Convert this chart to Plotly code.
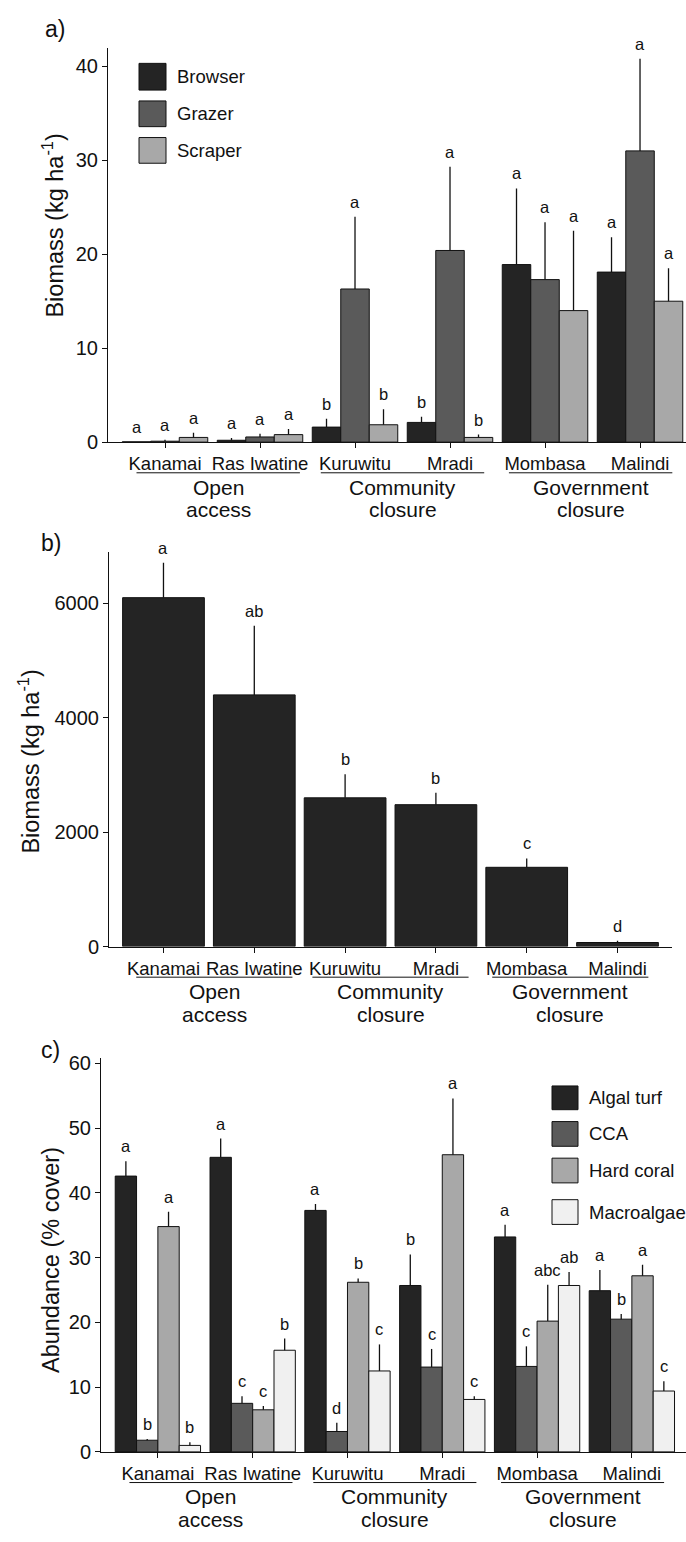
import plotly.graph_objects as go

W, H = 686, 1542
FONT = "Arial, Liberation Sans, Helvetica, sans-serif"

sites = ["Kanamai", "Ras Iwatine", "Kuruwitu", "Mradi", "Mombasa", "Malindi"]
groups = [["Open", "access"], ["Community", "closure"], ["Government", "closure"]]
group_centers = [0.56, 2.5, 4.48]

# ---- panel a: herbivore functional groups biomass (kg/ha)
a_series = ["Browser", "Grazer", "Scraper"]
a_browser = [0.03, 0.2, 1.6, 2.1, 18.9, 18.1]
a_browser_se = [0.02, 0.25, 0.9, 0.6, 8.1, 3.7]
a_grazer = [0.1, 0.55, 16.3, 20.4, 17.3, 31.0]
a_grazer_se = [0.15, 0.35, 7.7, 8.9, 6.1, 9.8]
a_scraper = [0.5, 0.8, 1.85, 0.5, 14.0, 15.0]
a_scraper_se = [0.5, 0.6, 1.65, 0.3, 8.5, 3.5]
a_browser_let = ["a", "a", "b", "b", "a", "a"]
a_grazer_let = ["a", "a", "a", "a", "a", "a"]
a_scraper_let = ["a", "a", "b", "b", "a", "a"]
a_ticks = [0, 10, 20, 30, 40]

# ---- panel b: total biomass (kg/ha)
b_mean = [6100, 4400, 2600, 2480, 1385, 70]
b_se = [610, 1210, 410, 210, 155, 30]
b_let = ["a", "ab", "b", "b", "c", "d"]
b_ticks = [0, 2000, 4000, 6000]

# ---- panel c: benthic cover (%)
c_series = ["Algal turf", "CCA", "Hard coral", "Macroalgae"]
c_turf = [42.6, 45.5, 37.3, 25.7, 33.2, 24.9]
c_turf_se = [2.3, 2.9, 1.0, 4.8, 1.9, 3.2]
c_cca = [1.8, 7.5, 3.15, 13.1, 13.2, 20.5]
c_cca_se = [0.2, 1.1, 1.35, 2.8, 3.1, 0.8]
c_coral = [34.8, 6.5, 26.2, 45.9, 20.2, 27.2]
c_coral_se = [2.3, 0.6, 0.6, 8.7, 5.6, 1.7]
c_macro = [1.0, 15.7, 12.5, 8.1, 25.7, 9.4]
c_macro_se = [0.5, 1.8, 4.1, 0.5, 2.1, 1.5]
c_turf_let = ["a", "a", "a", "b", "a", "a"]
c_cca_let = ["b", "c", "d", "c", "c", "b"]
c_coral_let = ["a", "c", "b", "a", "abc", "a"]
c_macro_let = ["b", "b", "c", "c", "ab", "c"]
c_ticks = [0, 10, 20, 30, 40, 50, 60]

colors3 = ["#242424", "#5a5a5a", "#a8a8a8"]
colors4 = ["#242424", "#5a5a5a", "#a8a8a8", "#f0f0f0"]


def px_x(p):
    return p / W


def px_y(p):
    return 1 - p / H


fig = go.Figure()
annotations = []
shapes = []
xs = list(range(len(sites)))


def add_panel(series_names, means, ses, letters, colors, xa, ya):
    n = len(means)
    bw = 0.9 / n
    for k in range(n):
        fig.add_trace(go.Bar(
            x=xs, y=means[k], name=series_names[k], width=bw,
            offset=-0.45 + k * bw,
            marker=dict(color=colors[k], line=dict(color="#111111", width=1)),
            error_y=dict(type="data", symmetric=False, array=ses[k],
                         arrayminus=[0] * len(xs), width=0, thickness=1.3,
                         color="#111111"),
            xaxis=xa, yaxis=ya, showlegend=False))
        for i in xs:
            annotations.append(dict(
                x=i - 0.45 + (k + 0.5) * bw, y=means[k][i] + ses[k][i],
                xref=xa, yref=ya, text=letters[k][i], showarrow=False,
                yanchor="middle", yshift=15,
                font=dict(family=FONT, size=16.5, color="#111111")))


add_panel(a_series, [a_browser, a_grazer, a_scraper],
          [a_browser_se, a_grazer_se, a_scraper_se],
          [a_browser_let, a_grazer_let, a_scraper_let], colors3, "x", "y")
add_panel(["Biomass"], [b_mean], [b_se], [b_let], ["#242424"], "x2", "y2")
add_panel(c_series, [c_turf, c_cca, c_coral, c_macro],
          [c_turf_se, c_cca_se, c_coral_se, c_macro_se],
          [c_turf_let, c_cca_let, c_coral_let, c_macro_let], colors4, "x3", "y3")

axis_common = dict(showline=True, linecolor="#111111", linewidth=1,
                   ticks="outside", ticklen=5, tickwidth=1, tickcolor="#111111",
                   showgrid=False, zeroline=False, fixedrange=True, tickangle=0)
xfont = dict(family=FONT, size=18.5, color="#111111")
yfont = dict(family=FONT, size=20, color="#111111")

layout_axes = {}
panels = [
    ("xaxis", "yaxis", (108, 686), (42, 441), [-0.6, 5.484], [0, 42], a_ticks),
    ("xaxis2", "yaxis2", (109, 672), (552, 951), [-0.6, 5.6], [0, 6900], b_ticks),
    ("xaxis3", "yaxis3", (101, 686), (1064, 1462), [-0.6, 5.571], [0, 60.8], c_ticks),
]
for xn, yn, (x0, x1), (y0, y1), xr, yr, yt in panels:
    anchor_y = "y" + xn[5:]
    anchor_x = "x" + xn[5:]
    layout_axes[xn] = dict(axis_common, domain=[px_x(x0), px_x(x1)], range=xr,
                           tickmode="array", tickvals=xs, ticktext=sites,
                           tickfont=xfont, anchor=anchor_y)
    layout_axes[yn] = dict(axis_common, domain=[px_y(y1), px_y(y0)], range=yr,
                           tickmode="array", tickvals=yt,
                           ticktext=[str(v) for v in yt],
                           tickfont=yfont, anchor=anchor_x)

# group labels under the site labels
group_geom = [("x", 441), ("x2", 951), ("x3", 1462)]
for xref, base in group_geom:
    for g, c in zip(groups, group_centers):
        shapes.append(dict(type="line", xref=xref, yref="paper",
                           x0=c - 0.86, x1=c + 0.86,
                           y0=px_y(base + 31), y1=px_y(base + 31),
                           line=dict(color="#111111", width=1)))
        annotations.append(dict(x=c, y=px_y(base + 45.5), xref=xref, yref="paper",
                                text=g[0], showarrow=False, yanchor="middle",
                                font=dict(family=FONT, size=21, color="#111111")))
        annotations.append(dict(x=c, y=px_y(base + 68.5), xref=xref, yref="paper",
                                text=g[1], showarrow=False, yanchor="middle",
                                font=dict(family=FONT, size=21, color="#111111")))

# y-axis titles
ytitles = [("Biomass (kg ha<sup>-1</sup>)", 53, 222),
           ("Biomass (kg ha<sup>-1</sup>)", 29, 764),
           ("Abundance (% cover)", 51, 1268)]
for t, xpx, ypx in ytitles:
    annotations.append(dict(x=px_x(xpx), y=px_y(ypx), xref="paper", yref="paper",
                            text=t, textangle=-90, showarrow=False,
                            xanchor="center", yanchor="middle",
                            font=dict(family=FONT, size=23.5, color="#111111")))

# panel letters
for t, xpx, ypx in [("a)", 55, 23), ("b)", 51, 543), ("c)", 50, 1056)]:
    annotations.append(dict(x=px_x(xpx), y=px_y(ypx), xref="paper", yref="paper",
                            text=t, showarrow=False, xanchor="center", yanchor="middle",
                            font=dict(family=FONT, size=23, color="#111111")))

# legends (key boxes + labels)
legend_a = [(58, 85), (96, 122), (133, 159)]
for name, col, (t, b) in zip(a_series, colors3, legend_a):
    shapes.append(dict(type="rect", xref="paper", yref="paper",
                       x0=px_x(139), x1=px_x(166), y0=px_y(b), y1=px_y(t),
                       fillcolor=col, line=dict(color="#111111", width=1)))
    annotations.append(dict(x=px_x(175), y=px_y((t + b) / 2), xref="paper", yref="paper",
                            text=name, showarrow=False, xanchor="left", yanchor="middle",
                            font=dict(family=FONT, size=18.5, color="#111111")))
legend_c = [(1092, 1116), (1128, 1153), (1165, 1190), (1207, 1232)]
for name, col, (t, b) in zip(c_series, colors4, legend_c):
    shapes.append(dict(type="rect", xref="paper", yref="paper",
                       x0=px_x(552), x1=px_x(578), y0=px_y(b), y1=px_y(t),
                       fillcolor=col, line=dict(color="#111111", width=1)))
    annotations.append(dict(x=px_x(587), y=px_y((t + b) / 2), xref="paper", yref="paper",
                            text=name, showarrow=False, xanchor="left", yanchor="middle",
                            font=dict(family=FONT, size=18.5, color="#111111")))

fig.update_layout(
    width=W, height=H, margin=dict(l=0, r=0, t=0, b=0),
    paper_bgcolor="white", plot_bgcolor="white",
    barmode="overlay", showlegend=False,
    annotations=annotations, shapes=shapes,
    font=dict(family=FONT, color="#111111"),
    **layout_axes)

fig.write_html("out.html")
